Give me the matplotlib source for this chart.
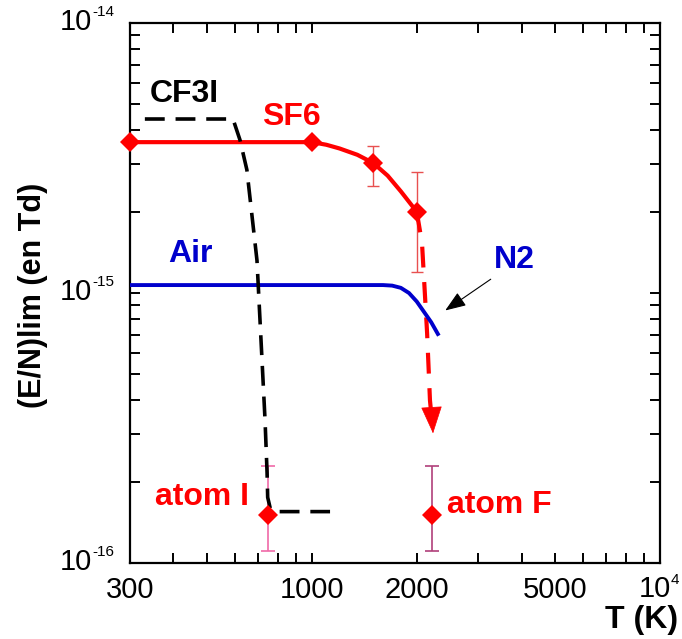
import matplotlib
matplotlib.use('Agg')
import matplotlib.pyplot as plt
from matplotlib.ticker import FixedLocator, NullFormatter

plt.rcParams['font.family'] = ['Liberation Sans', 'DejaVu Sans']

# SF6 limit curve (solid) and measured points
sf6_T = [300, 1000, 1100, 1200, 1350, 1500, 1650, 1800, 2000]
sf6_E = [3.62e-15, 3.62e-15, 3.54e-15, 3.43e-15, 3.25e-15, 3.03e-15, 2.72e-15,
         2.38e-15, 2.0e-15]
sf6_pts_T = [300, 1000, 1500, 2000]
sf6_pts_E = [3.62e-15, 3.62e-15, 3.03e-15, 2.0e-15]
sf6_err_T = [1500, 2000]
sf6_err_E = [3.03e-15, 2.0e-15]
sf6_err_lo = [2.5e-15, 1.2e-15]
sf6_err_hi = [3.5e-15, 2.8e-15]

# SF6 extrapolation (dashed, ends with arrow)
sf6x_T = [2000, 2071, 2142, 2183, 2215]
sf6x_E = [2.0e-15, 1.53e-15, 7.1e-16, 4.0e-16, 3.3e-16]

# Air / N2
air_T = [300, 1600, 1700, 1800, 1900, 2000, 2100, 2200, 2300]
air_E = [1.07e-15, 1.07e-15, 1.065e-15, 1.045e-15, 1.0e-15, 9.3e-16, 8.5e-16,
         7.8e-16, 7.05e-16]

# CF3I
cf3i_T = [331, 593, 621, 650, 695, 709, 733, 743, 746, 760, 790, 1127]
cf3i_E = [4.41e-15, 4.41e-15, 3.69e-15, 2.86e-15, 1.32e-15, 7.94e-16, 3.39e-16,
          2.16e-16, 1.75e-16, 1.58e-16, 1.55e-16, 1.55e-16]

# atoms
atomI_T, atomI_E, atomI_lo, atomI_hi = 750, 1.5e-16, 1.11e-16, 2.29e-16
atomF_T, atomF_E, atomF_lo, atomF_hi = 2210, 1.5e-16, 1.11e-16, 2.29e-16

x_major = [300, 1000, 2000, 5000]
x_labels = ['300', '1000', '2000', '5000']
x_minor = [400, 500, 600, 700, 800, 900, 3000, 4000, 6000, 7000, 8000, 9000]
y_major = [1e-16, 1e-15, 1e-14]
y_exps = ['-16', '-15', '-14']

fig = plt.figure(figsize=(6.82, 6.39), dpi=100)
ax = fig.add_axes([130/682, 1 - 563/639, 530/682, 540/639])
ax.set_xscale('log')
ax.set_yscale('log')
ax.set_xlim(300, 1e4)
ax.set_ylim(1e-16, 1e-14)

red = '#ff0000'
blue = '#0000cc'

# error bars
ax.errorbar(sf6_err_T, sf6_err_E,
            yerr=[[e - l for e, l in zip(sf6_err_E, sf6_err_lo)],
                  [h - e for e, h in zip(sf6_err_E, sf6_err_hi)]],
            fmt='none', ecolor='#e85050', elinewidth=1, capsize=4, capthick=1, zorder=2)
ax.errorbar([atomI_T], [atomI_E], yerr=[[atomI_E - atomI_lo], [atomI_hi - atomI_E]],
            fmt='none', ecolor='#f06aa8', elinewidth=1.2, capsize=5, capthick=1.2, zorder=2)
ax.errorbar([atomF_T], [atomF_E], yerr=[[atomF_E - atomF_lo], [atomF_hi - atomF_E]],
            fmt='none', ecolor='#b0407a', elinewidth=1.2, capsize=5, capthick=1.2, zorder=2)

ax.plot(sf6_T, sf6_E, color=red, lw=3, solid_capstyle='butt', zorder=3)
ax.plot(sf6x_T, sf6x_E, color=red, lw=3, linestyle=(0, (5, 3.5)), zorder=3)
ax.annotate('', xy=(2230, 2.95e-16), xytext=(2210, 3.6e-16),
            arrowprops=dict(arrowstyle='-|>,head_length=0.9,head_width=0.35',
                            color=red, lw=0.5, mutation_scale=20), zorder=4)
ax.plot(air_T, air_E, color=blue, lw=2.8, zorder=3)
ax.plot(cf3i_T, cf3i_E, color='black', lw=2.6, linestyle=(0, (5.5, 3)), zorder=4)

ax.plot(sf6_pts_T, sf6_pts_E, linestyle='none', marker='D', ms=10, color=red,
        markeredgewidth=0, zorder=5, clip_on=False)
ax.plot([atomI_T, atomF_T], [atomI_E, atomF_E], linestyle='none', marker='D', ms=10,
        color=red, markeredgewidth=0, zorder=5)

# N2 arrow
ax.annotate('', xy=(2378, 8.5e-16), xytext=(3313, 1.14e-15),
            arrowprops=dict(arrowstyle='-|>,head_length=0.8,head_width=0.3',
                            color='black', lw=0.8, mutation_scale=16))

tf = dict(fontsize=23, fontweight='bold', ha='left', va='baseline')
ax.text(342, 5.1e-15, 'CF3I', color='black', **tf)
ax.text(718, 4.19e-15, 'SF6', color=red, **tf)
ax.text(386, 1.30e-15, 'Air', color=blue, **tf)
ax.text(3336, 1.24e-15, 'N2', color=blue, **tf)
ax.text(354, 1.64e-16, 'atom I', color=red, **tf)
ax.text(2445, 1.53e-16, 'atom F', color=red, **tf)

# ticks
ax.xaxis.set_major_locator(FixedLocator(x_major + [10000]))
ax.set_xticklabels(x_labels + [''])
ax.xaxis.set_minor_locator(FixedLocator(x_minor))
ax.xaxis.set_minor_formatter(NullFormatter())
ax.yaxis.set_major_locator(FixedLocator(y_major))
ax.set_yticklabels([''] * len(y_major))
ax.yaxis.set_minor_locator(FixedLocator([k * 1e-16 for k in range(2, 10)] +
                                        [k * 1e-15 for k in range(2, 10)]))
ax.yaxis.set_minor_formatter(NullFormatter())
ax.tick_params(which='both', direction='in', top=True, right=True, length=7, width=1.4,
               labelsize=21)
ax.tick_params(axis='x', pad=9)
for s in ax.spines.values():
    s.set_linewidth(1.6)

# power-of-ten labels with small hyphen exponents
px = 0.72
for v, e in zip(y_major, y_exps):
    ax.annotate('10', xy=(0, v), xycoords=('axes fraction', 'data'),
                xytext=(-38 * px, -7 * px), textcoords='offset points',
                ha='right', va='baseline', fontsize=21)
    ax.annotate(e, xy=(0, v), xycoords=('axes fraction', 'data'),
                xytext=(-38 * px, 6.5 * px), textcoords='offset points',
                ha='left', va='baseline', fontsize=11)
ax.annotate('10', xy=(1e4, 0), xycoords=('data', 'axes fraction'),
            xytext=(11 * px, -34 * px), textcoords='offset points',
            ha='right', va='baseline', fontsize=21)
ax.annotate('4', xy=(1e4, 0), xycoords=('data', 'axes fraction'),
            xytext=(11 * px, -20.5 * px), textcoords='offset points',
            ha='left', va='baseline', fontsize=11)

fig.text(33/682, 1 - 295/639, '(E/N)lim (en Td)', rotation=90, fontsize=22,
         fontweight='bold', ha='center', va='center')
fig.text(678/682, 11/639, 'T (K)', fontsize=23, fontweight='bold', ha='right',
         va='baseline')

fig.savefig('out.png', dpi=100)
